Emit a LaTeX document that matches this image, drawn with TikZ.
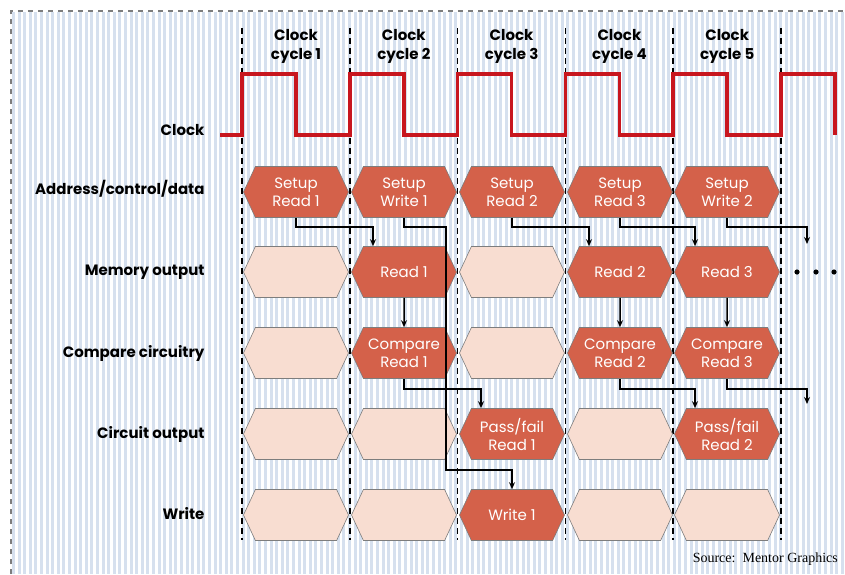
\documentclass[tikz,border=0pt]{standalone}
\usepackage{fontspec}
\setmainfont{Poppins}
\newfontfamily\sourcefont{Liberation Serif}
\usepackage{tikz}
\usetikzlibrary{shapes.symbols, arrows.meta, positioning, calc}
\definecolor{stripeblue}{RGB}{214, 224, 238}
\definecolor{clockred}{RGB}{200, 22, 30}
\definecolor{busyorange}{RGB}{212, 97, 74}
\definecolor{idlepeach}{RGB}{248, 221, 209}
\definecolor{edgegray}{RGB}{125, 125, 125}

\begin{document}
\begin{tikzpicture}[x=1pt, y=-1pt,
    busy/.style={signal, signal to=west and east, signal from=nowhere,
        signal pointer angle=130, minimum width=105pt, minimum height=51pt,
        inner sep=0pt, fill=busyorange, draw=edgegray, line width=0.6pt,
        text=white, align=center, font=\fontsize{15}{18}\selectfont},
    idle/.style={busy, fill=idlepeach},
    rowlabel/.style={anchor=base east, font=\bfseries\fontsize{15}{18}\selectfont},
    cyclelabel/.style={align=center, font=\bfseries\fontsize{15}{19}\selectfont},
    cycleline/.style={black, line width=1.5pt, dash pattern=on 6pt off 4pt},
    link/.style={-{Stealth[length=7pt, width=6pt]}, line width=1.5pt}]
    \useasboundingbox (0,0) rectangle (845,574);
    % Striped background and border
    \foreach \i in {0,...,148} {
        \fill[stripeblue] ({12+5.6*\i},12) rectangle ++(3,562);
    }
    \draw[edgegray, line width=1.2pt, dash pattern=on 5pt off 5pt]
        (11,574) -- (11,11) -- (845,11);
    % Cycle boundaries
    \foreach \k in {0,...,5} {
        \draw[cycleline] ({242+107.8*\k},28) -- ({242+107.8*\k},540);
    }
    % Clock waveform
    \draw[clockred, line width=3.6pt] (220,135)
        foreach \k in {0,...,5} {
            -- ({242+107.8*\k},135) -- ({242+107.8*\k},74)
            -- ({296+107.8*\k},74) -- ({296+107.8*\k},135)
        };
    \foreach \k in {1,...,5} {
        \node[cyclelabel] (cyc\k) at ({296+107.8*(\k-1)},46) {Clock\\cycle \k};
    }
    % Row labels
    \node[rowlabel] (lclock) at (208,135) {Clock};
    \node[rowlabel] (laddr) at (208,194.5) {Address/control/data};
    \node[rowlabel] (lmem) at (208,275.5) {Memory output};
    \node[rowlabel] (lcomp) at (208,357.5) {Compare circuitry};
    \node[rowlabel] (lcirc) at (208,438.5) {Circuit output};
    \node[rowlabel] (lwrite) at (208,519.5) {Write};
    % Empty slots
    \foreach \n/\x/\y in {m1/296/272, m3/512/272, c1/296/353, c3/512/353,
        p1/296/434, p2/404/434, p4/620/434,
        w1/296/515, w2/404/515, w4/620/515, w5/727/515} {
        \node[idle] (\n) at (\x,\y) {};
    }
    % Address/control/data
    \node[busy] (a1) at (296,192) {Setup\\Read 1};
    \node[busy] (a2) at (404,192) {Setup\\Write 1};
    \node[busy] (a3) at (512,192) {Setup\\Read 2};
    \node[busy] (a4) at (620,192) {Setup\\Read 3};
    \node[busy] (a5) at (727,192) {Setup\\Write 2};
    % Memory output
    \node[busy] (m2) at (404,272) {Read 1};
    \node[busy] (m4) at (620,272) {Read 2};
    \node[busy] (m5) at (727,272) {Read 3};
    \foreach \x in {797,816,834} {
        \fill (\x,272) circle (2.6pt);
    }
    % Compare circuitry
    \node[busy] (c2) at (404,353) {Compare\\Read 1};
    \node[busy] (c4) at (620,353) {Compare\\Read 2};
    \node[busy] (c5) at (727,353) {Compare\\Read 3};
    % Circuit output and write
    \node[busy] (p3) at (512,434) {Pass/fail\\Read 1};
    \node[busy] (p5) at (727,434) {Pass/fail\\Read 2};
    \node[busy] (w3) at (512,515) {Write 1};
    % Data flow
    \coordinate (m6) at (807,244);
    \coordinate (p6) at (807,404);
    \coordinate (wbend) at (446,470);
    \draw[link] (a1.south) -- ++(0,9) -| ($(m2.north)+(-31,0)$);
    \draw[link] (a3.south) -- ++(0,9) -| ($(m4.north)+(-31,0)$);
    \draw[link] (a4.south) -- ++(0,9) -| ($(m5.north)+(-32,0)$);
    \draw[link] (a5.south) -- ++(0,9) -| (m6);
    \draw[link] (m2) -- (c2);
    \draw[link] (m4) -- (c4);
    \draw[link] (m5) -- (c5);
    \draw[link] (c2.south) -- ++(0,10) -| ($(p3.north)+(-31,0)$);
    \draw[link] (c4.south) -- ++(0,10) -| ($(p5.north)+(-32,0)$);
    \draw[link] (c5.south) -- ++(0,10) -| (p6);
    \draw[link] (a2.south) -- ++(0,9) -| (wbend) -| (w3.north);
    % Source
    \node[anchor=base east, inner sep=0pt,
        font=\sourcefont\fontsize{14}{16}\selectfont]
        (source) at (838,562) {Source:\ \ Mentor Graphics};
\end{tikzpicture}
\end{document}
